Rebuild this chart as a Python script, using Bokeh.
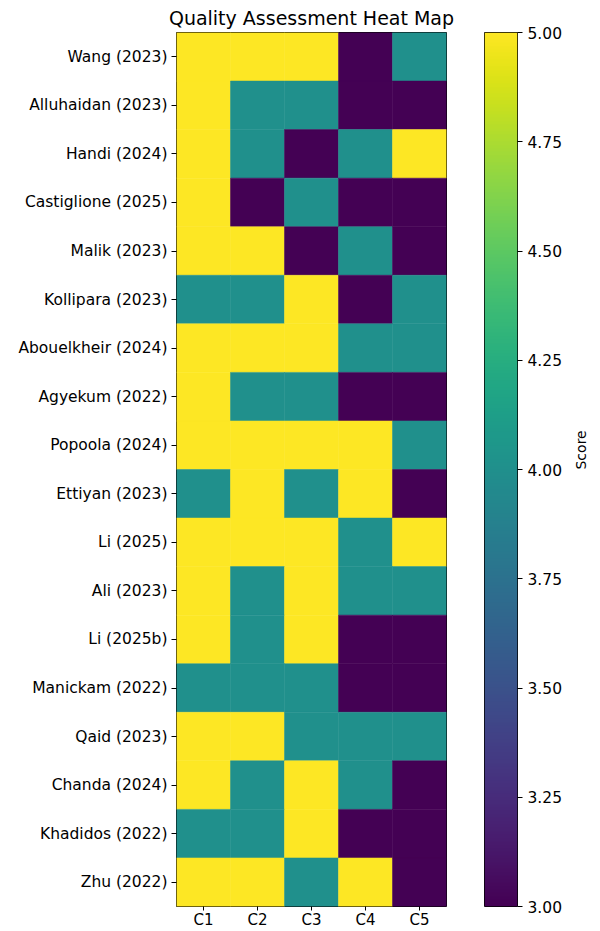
import math
import numpy as np
from bokeh.plotting import figure
from bokeh.layouts import row
from bokeh.models import ColumnDataSource, LinearColorMapper, FixedTicker, NumeralTickFormatter
from bokeh.palettes import Viridis256
from bokeh.embed import file_html
from bokeh.resources import INLINE

studies = ["Wang (2023)", "Alluhaidan (2023)", "Handi (2024)", "Castiglione (2025)",
           "Malik (2023)", "Kollipara (2023)", "Abouelkheir (2024)", "Agyekum (2022)",
           "Popoola (2024)", "Ettiyan (2023)", "Li (2025)", "Ali (2023)", "Li (2025b)",
           "Manickam (2022)", "Qaid (2023)", "Chanda (2024)", "Khadidos (2022)", "Zhu (2022)"]
criteria = ["C1", "C2", "C3", "C4", "C5"]
scores = [
    [5, 5, 5, 3, 4],
    [5, 4, 4, 3, 3],
    [5, 4, 3, 4, 5],
    [5, 3, 4, 3, 3],
    [5, 5, 3, 4, 3],
    [4, 4, 5, 3, 4],
    [5, 5, 5, 4, 4],
    [5, 4, 4, 3, 3],
    [5, 5, 5, 5, 4],
    [4, 5, 4, 5, 3],
    [5, 5, 5, 4, 5],
    [5, 4, 5, 4, 4],
    [5, 4, 5, 3, 3],
    [4, 4, 4, 3, 3],
    [5, 5, 4, 4, 4],
    [5, 4, 5, 4, 3],
    [4, 4, 5, 3, 3],
    [5, 5, 4, 5, 3],
]
cbar_ticks = [3.00, 3.25, 3.50, 3.75, 4.00, 4.25, 4.50, 4.75, 5.00]
score_low, score_high = 3, 5

FONT = "DejaVu Sans"
LBL = "15.5px"

xs, ys, vs = [], [], []
for s, rowvals in zip(studies, scores):
    for c, v in zip(criteria, rowvals):
        xs.append(c); ys.append(s); vs.append(v)
src = ColumnDataSource(dict(x=xs, y=ys, v=vs))
mapper = LinearColorMapper(palette=Viridis256, low=score_low, high=score_high)

p = figure(width=460, height=931, x_range=criteria, y_range=list(reversed(studies)),
           output_backend="svg", toolbar_location=None,
           title="Quality Assessment Heat Map",
           min_border_left=176, min_border_right=14, min_border_top=32, min_border_bottom=22)
p.rect(x="x", y="y", width=1, height=1, source=src,
       fill_color={"field": "v", "transform": mapper},
       line_color={"field": "v", "transform": mapper}, line_width=0.5)
p.title.align = "center"
p.title.text_font = FONT
p.title.text_font_size = "19px"
p.title.text_font_style = "normal"
p.title.text_color = "black"
p.title.standoff = 7
p.outline_line_color = "black"
p.outline_line_width = 1
p.grid.visible = False
for ax in (p.xaxis, p.yaxis):
    ax.axis_line_color = None
    ax.major_tick_line_color = "black"
    ax.major_tick_out = 5
    ax.major_tick_in = 0
    ax.minor_tick_line_color = None
    ax.major_label_text_font = FONT
    ax.major_label_text_font_size = LBL
    ax.major_label_text_color = "black"
    ax.major_label_standoff = 4
p.xaxis.major_label_standoff = 0
p.xaxis.major_tick_out = 4
p.xaxis.major_label_text_font_size = "15px"
p.x_range.range_padding = 0
p.y_range.range_padding = 0

# colorbar figure
grad = np.linspace(score_low, score_high, 256).reshape(256, 1)
c = figure(width=140, height=931, x_range=(0, 1), y_range=(score_low, score_high),
           output_backend="svg", toolbar_location=None, y_axis_location="right",
           min_border_left=24, min_border_right=69, min_border_top=32, min_border_bottom=24)
c.image(image=[grad], x=0, y=score_low, dw=1, dh=score_high - score_low, color_mapper=mapper)
c.xaxis.visible = False
c.grid.visible = False
c.outline_line_color = "black"
c.yaxis.ticker = FixedTicker(ticks=cbar_ticks)
c.yaxis.formatter = NumeralTickFormatter(format="0.00")
c.yaxis.axis_line_color = None
c.yaxis.major_tick_line_color = "black"
c.yaxis.major_tick_out = 5
c.yaxis.major_tick_in = 0
c.yaxis.minor_tick_line_color = None
c.yaxis.major_label_text_font = FONT
c.yaxis.major_label_text_font_size = LBL
c.yaxis.major_label_text_color = "black"
c.yaxis.major_label_standoff = 5
c.yaxis.axis_label = "Score"
c.yaxis.axis_label_orientation = math.pi / 2
c.yaxis.axis_label_standoff = 16
c.yaxis.axis_label_text_baseline = "top"
c.yaxis.axis_label_text_font = FONT
c.yaxis.axis_label_text_font_size = "14px"
c.yaxis.axis_label_text_font_style = "normal"
c.yaxis.axis_label_text_color = "black"

layout = row(p, c)
open("out.html", "w").write(file_html(layout, INLINE))
